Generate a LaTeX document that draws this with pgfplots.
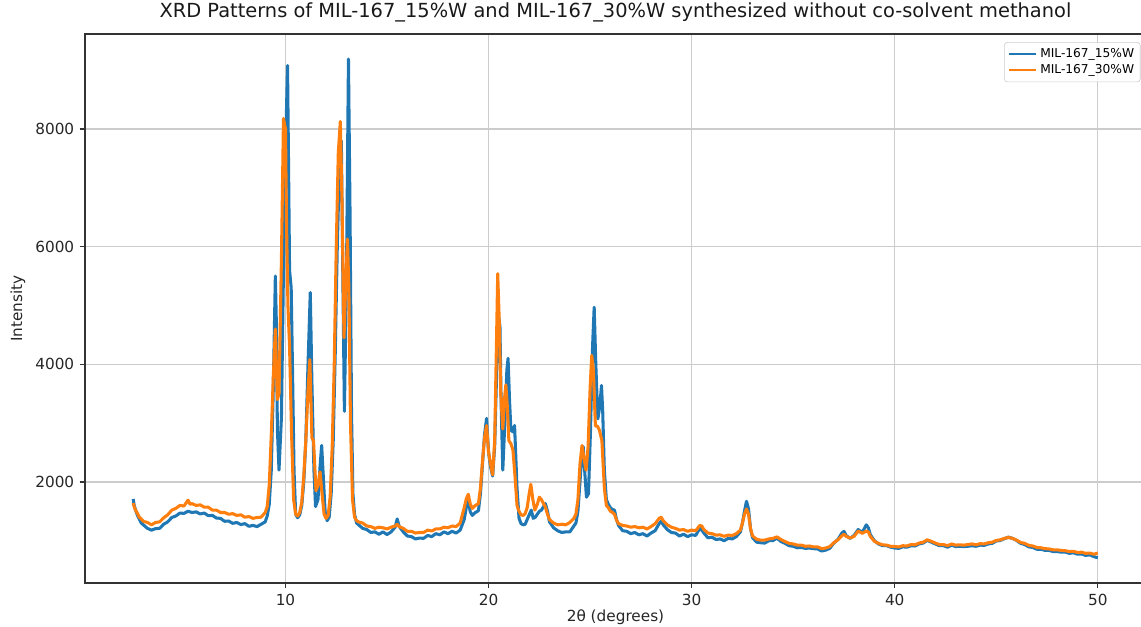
\documentclass[border=0pt]{standalone}
\usepackage{fontspec}
\setmainfont{DejaVu Sans}
\usepackage{pgfplots}
\usepackage{pgfplotstable}
\pgfplotsset{compat=1.18}
\definecolor{tabblue}{HTML}{1F77B4}
\definecolor{taborange}{HTML}{FF7F0E}

\pgfplotstableread{
x y
2.50 1710
2.55 1600
2.60 1540
2.70 1440
2.80 1370
2.90 1300
3.00 1270
3.20 1210
3.40 1180
3.60 1205
3.80 1210
4.00 1280
4.20 1320
4.40 1395
4.60 1420
4.80 1470
5.00 1465
5.20 1500
5.40 1480
5.60 1490
5.80 1455
6.00 1470
6.20 1425
6.40 1430
6.60 1385
6.80 1380
7.00 1330
7.20 1335
7.40 1295
7.60 1310
7.80 1275
8.00 1290
8.20 1245
8.40 1260
8.60 1240
8.80 1280
9.00 1320
9.10 1420
9.20 1620
9.30 2200
9.40 3600
9.50 5500
9.55 4700
9.60 2900
9.68 2200
9.80 3100
9.90 5600
10.00 7600
10.10 9080
10.15 7400
10.20 5600
10.28 5300
10.35 3800
10.42 2200
10.50 1450
10.60 1390
10.70 1440
10.80 1600
10.90 2000
11.00 2700
11.10 3900
11.22 5220
11.30 3700
11.40 2200
11.48 1580
11.60 1700
11.70 2250
11.78 2620
11.86 2100
11.95 1500
12.05 1340
12.15 1400
12.25 1800
12.35 2700
12.45 4200
12.55 6000
12.65 7300
12.75 7800
12.82 5600
12.90 3200
13.00 5400
13.10 9190
13.18 6500
13.25 3200
13.32 1800
13.40 1450
13.50 1300
13.60 1270
13.80 1210
14.00 1190
14.20 1140
14.40 1150
14.60 1110
14.80 1150
15.00 1105
15.20 1150
15.40 1230
15.50 1370
15.60 1240
15.80 1150
16.00 1080
16.20 1070
16.40 1030
16.60 1045
16.80 1040
17.00 1090
17.20 1070
17.40 1120
17.60 1100
17.80 1150
18.00 1120
18.20 1160
18.40 1130
18.60 1180
18.80 1360
18.90 1560
19.00 1680
19.10 1490
19.20 1430
19.35 1480
19.50 1510
19.60 1800
19.70 2300
19.80 2800
19.90 3080
20.00 2500
20.10 2250
20.20 2100
20.30 2600
20.40 3900
20.50 4800
20.56 4650
20.62 3300
20.70 2200
20.80 3000
20.90 3900
20.96 4100
21.03 3400
21.10 2880
21.20 2850
21.28 2960
21.40 1900
21.50 1380
21.60 1290
21.70 1270
21.80 1280
21.90 1360
22.00 1440
22.10 1520
22.20 1380
22.30 1400
22.40 1450
22.50 1500
22.60 1520
22.80 1630
22.90 1500
23.00 1320
23.20 1220
23.40 1170
23.60 1140
23.80 1150
24.00 1150
24.20 1250
24.30 1300
24.40 1500
24.50 2000
24.60 2500
24.66 2600
24.72 2250
24.82 1740
24.92 1800
25.02 2900
25.12 4300
25.20 4970
25.28 4000
25.38 3070
25.48 3300
25.56 3640
25.62 3200
25.70 2200
25.80 1700
25.90 1620
26.00 1560
26.10 1530
26.20 1520
26.30 1360
26.40 1260
26.60 1170
26.80 1160
27.00 1120
27.20 1140
27.40 1100
27.60 1120
27.80 1080
28.00 1130
28.20 1170
28.40 1290
28.50 1330
28.60 1270
28.80 1190
29.00 1140
29.20 1130
29.40 1080
29.60 1110
29.80 1070
30.00 1100
30.20 1090
30.40 1210
30.50 1180
30.60 1130
30.80 1050
31.00 1060
31.20 1020
31.40 1030
31.60 1000
31.80 1040
32.00 1030
32.20 1070
32.40 1150
32.50 1300
32.60 1500
32.70 1670
32.80 1540
32.90 1200
33.00 1050
33.20 975
33.40 965
33.60 960
33.80 1000
34.00 1000
34.20 1045
34.40 985
34.60 955
34.80 915
35.00 905
35.20 880
35.40 885
35.60 870
35.80 875
36.00 865
36.20 860
36.40 825
36.60 840
36.80 870
37.00 960
37.20 1020
37.40 1130
37.50 1160
37.60 1090
37.80 1040
38.00 1090
38.20 1190
38.40 1140
38.60 1270
38.70 1220
38.80 1100
39.00 1000
39.20 945
39.40 915
39.60 915
39.80 890
40.00 875
40.20 870
40.40 895
40.60 890
40.80 915
41.00 910
41.20 945
41.40 960
41.60 1005
41.80 975
42.00 945
42.20 915
42.40 915
42.60 890
42.80 925
43.00 900
43.20 905
43.40 900
43.60 905
43.80 915
44.00 905
44.20 925
44.40 920
44.60 945
44.80 955
45.00 995
45.20 1005
45.40 1035
45.60 1060
45.80 1040
46.00 1005
46.20 955
46.40 935
46.60 895
46.80 885
47.00 855
47.20 855
47.40 835
47.60 835
47.80 815
48.00 815
48.20 805
48.40 805
48.60 785
48.80 795
49.00 770
49.20 775
49.40 750
49.60 760
49.80 730
50.00 710
}\bluedata

\pgfplotstableread{
x y
2.50 1640
2.55 1580
2.60 1530
2.70 1470
2.80 1400
2.90 1370
3.00 1330
3.20 1310
3.40 1270
3.60 1310
3.80 1320
4.00 1390
4.20 1440
4.40 1520
4.60 1550
4.80 1600
5.00 1590
5.20 1690
5.30 1620
5.40 1630
5.60 1600
5.80 1610
6.00 1570
6.20 1570
6.40 1520
6.60 1520
6.80 1480
7.00 1480
7.20 1450
7.40 1460
7.60 1430
7.80 1440
8.00 1400
8.20 1410
8.40 1380
8.60 1395
8.80 1400
9.00 1480
9.10 1580
9.20 1950
9.30 2800
9.40 3800
9.50 4600
9.60 3400
9.68 3500
9.80 5800
9.90 8180
10.00 8000
10.05 6400
10.12 5000
10.20 4300
10.30 2800
10.40 1700
10.50 1450
10.60 1420
10.70 1480
10.80 1650
10.90 2100
11.00 2700
11.10 3500
11.20 4080
11.30 2750
11.38 2700
11.50 1850
11.60 1950
11.70 2170
11.80 1800
11.90 1450
12.00 1380
12.10 1430
12.20 1750
12.30 2600
12.40 4000
12.50 6000
12.60 7600
12.70 8130
12.78 6800
12.88 4450
12.96 5300
13.05 6130
13.12 5300
13.20 3000
13.30 1700
13.40 1400
13.50 1340
13.60 1320
13.80 1300
14.00 1250
14.20 1240
14.40 1210
14.60 1230
14.80 1220
15.00 1200
15.20 1230
15.40 1250
15.50 1280
15.60 1240
15.80 1210
16.00 1160
16.20 1160
16.40 1130
16.60 1140
16.80 1140
17.00 1180
17.20 1165
17.40 1200
17.60 1200
17.80 1230
18.00 1220
18.20 1250
18.40 1240
18.60 1300
18.80 1560
18.90 1710
19.00 1790
19.10 1620
19.20 1550
19.35 1600
19.50 1630
19.60 1900
19.70 2350
19.80 2750
19.90 2960
20.00 2500
20.10 2300
20.20 2120
20.30 2700
20.38 4200
20.45 5540
20.52 4800
20.60 3500
20.70 2900
20.78 3400
20.85 3650
20.92 3300
21.00 2700
21.10 2650
21.20 2540
21.30 2100
21.40 1600
21.50 1500
21.60 1440
21.70 1430
21.80 1460
21.90 1560
22.00 1800
22.08 1960
22.18 1700
22.28 1520
22.40 1620
22.50 1740
22.60 1700
22.80 1570
22.90 1450
23.00 1360
23.20 1300
23.40 1270
23.60 1280
23.80 1270
24.00 1310
24.20 1380
24.30 1450
24.40 1700
24.50 2300
24.60 2620
24.70 2400
24.80 2200
24.90 2600
25.00 3600
25.08 4150
25.16 3900
25.26 2950
25.36 2950
25.46 2880
25.58 2700
25.70 1900
25.80 1600
25.90 1560
26.00 1500
26.10 1480
26.20 1450
26.30 1350
26.40 1290
26.60 1260
26.80 1250
27.00 1230
27.20 1240
27.40 1220
27.60 1230
27.80 1200
28.00 1240
28.20 1290
28.40 1380
28.50 1400
28.60 1340
28.80 1270
29.00 1230
29.20 1210
29.40 1180
29.60 1190
29.80 1160
30.00 1180
30.20 1170
30.40 1260
30.50 1250
30.60 1190
30.80 1130
31.00 1120
31.20 1095
31.40 1100
31.60 1075
31.80 1095
32.00 1090
32.20 1120
32.40 1180
32.50 1300
32.60 1450
32.70 1540
32.80 1450
32.90 1200
33.00 1080
33.20 1025
33.40 1010
33.60 1010
33.80 1030
34.00 1040
34.20 1065
34.40 1020
34.60 985
34.80 955
35.00 945
35.20 925
35.40 925
35.60 905
35.80 910
36.00 895
36.20 895
36.40 865
36.60 875
36.80 900
37.00 965
37.20 1015
37.40 1085
37.50 1110
37.60 1075
37.80 1045
38.00 1075
38.20 1165
38.40 1125
38.60 1165
38.70 1150
38.80 1070
39.00 990
39.20 955
39.40 930
39.60 925
39.80 905
40.00 900
40.20 895
40.40 915
40.60 910
40.80 935
41.00 930
41.20 960
41.40 975
41.60 1015
41.80 990
42.00 960
42.20 935
42.40 935
42.60 915
42.80 945
43.00 925
43.20 930
43.40 925
43.60 935
43.80 945
44.00 930
44.20 950
44.40 945
44.60 965
44.80 975
45.00 1005
45.20 1015
45.40 1040
45.60 1055
45.80 1040
46.00 1010
46.20 970
46.40 955
46.60 920
46.80 910
47.00 885
47.20 880
47.40 865
47.60 860
47.80 845
48.00 845
48.20 835
48.40 830
48.60 815
48.80 820
49.00 800
49.20 805
49.40 785
49.60 790
49.80 770
50.00 790
}\orangedata

\begin{document}
\begin{tikzpicture}
\begin{axis}[
  scale only axis,
  width=694.4pt, height=359.3pt,
  xmin=0.125, xmax=52.375, ymin=279, ymax=9615,
  xtick={10,20,30,40,50}, ytick={2000,4000,6000,8000},
  xtick pos=bottom, ytick pos=left,
  tick align=outside, major tick length=3.5pt,
  grid=major,
  major grid style={color=black!20, line width=0.8pt},
  axis line style={line width=0.8pt, color=black!80},
  tick style={line width=0.8pt, color=black!80},
  ticklabel style={font=\fontsize{10}{12}\selectfont, color=black!85},
  /pgf/number format/assume math mode=true,
  /pgf/number format/1000 sep={},
  every axis title shift=0pt,
  title={XRD Patterns of MIL-167\_15\%W and MIL-167\_30\%W synthesized without co-solvent methanol},
  title style={at={(rel axis cs:0.5,1)}, anchor=south, yshift=4pt, font=\fontsize{12.7}{15}\selectfont, color=black!90},
  xlabel={2θ (degrees)},
  xlabel style={at={(rel axis cs:0.5,0)}, anchor=base, yshift=-25pt, font=\fontsize{10}{12}\selectfont, color=black!85},
  ylabel={Intensity},
  ylabel style={at={([xshift=-43.9pt]rel axis cs:0,0.5)}, anchor=center, rotate=0, font=\fontsize{10}{12}\selectfont, color=black!85},
  legend style={at={(rel axis cs:0.9948,0.9854)}, anchor=north east, font=\fontsize{8}{9.6}\selectfont, draw=black!20, fill=white, fill opacity=0.8, text opacity=1, rounded corners=2pt, inner sep=2pt, row sep=-1pt, legend cell align=left},
  legend image code/.code={\draw[#1, line width=1.5pt] (0pt,0pt) -- (18pt,0pt);},
]
\addplot[tabblue, line width=2pt, line join=round] table {\bluedata};
\addlegendentry{MIL-167\_15\%W}
\addplot[taborange, line width=2pt, line join=round] table {\orangedata};
\addlegendentry{MIL-167\_30\%W}
\coordinate (SW) at (rel axis cs:0,0);
\coordinate (NE) at (rel axis cs:1,1);
\end{axis}
\pgfresetboundingbox
\path[use as bounding box] ([shift={(-55.6pt,-28.1pt)}]SW) rectangle ([shift={(-3.3pt,22.3pt)}]NE);
\end{tikzpicture}
\end{document}
